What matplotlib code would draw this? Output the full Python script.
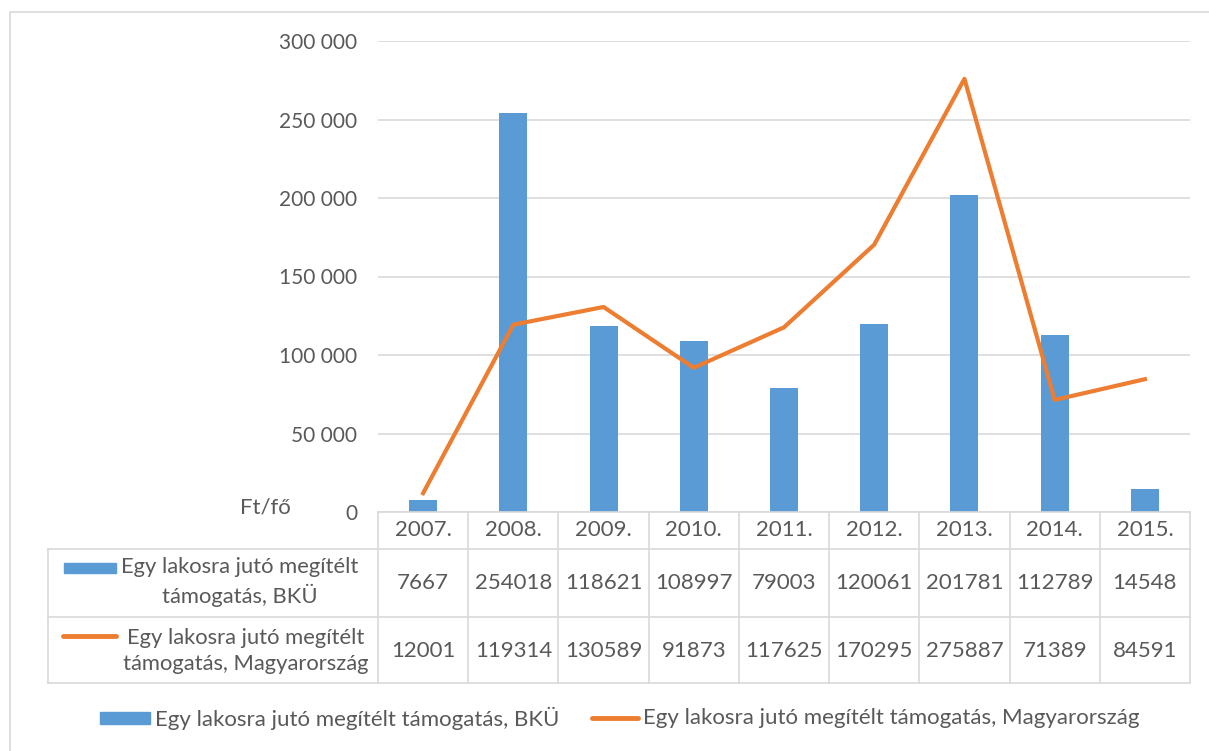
import matplotlib
matplotlib.use("Agg")
import matplotlib.pyplot as plt
from matplotlib.patches import Rectangle
from matplotlib.lines import Line2D
import numpy as np

years = ["2007.", "2008.", "2009.", "2010.", "2011.", "2012.", "2013.", "2014.", "2015."]
bku = [7667, 254018, 118621, 108997, 79003, 120061, 201781, 112789, 14548]
magyar = [12001, 119314, 130589, 91873, 117625, 170295, 275887, 71389, 84591]
series_bku = "Egy lakosra jutó megítélt támogatás, BKÜ"
series_hu = "Egy lakosra jutó megítélt támogatás, Magyarország"
row_bku = "Egy lakosra jutó megítélt\ntámogatás, BKÜ"
row_hu = "Egy lakosra jutó megítélt\ntámogatás, Magyarország"
yticks = [0, 50000, 100000, 150000, 200000, 250000, 300000]
ytick_labels = ["0", "50 000", "100 000", "150 000", "200 000", "250 000", "300 000"]
unit_label = "Ft/fő"

BLUE = "#5B9BD5"
ORANGE = "#ED7D31"
TXT = "#595959"
GRID = "#D9D9D9"
FONT = "Lato"

W, H = 1209, 751
fig = plt.figure(figsize=(W / 100, H / 100), dpi=100)
plt.rcParams['font.family'] = [FONT, 'DejaVu Sans']

def fx(x):
    return x / W

def fy(y):
    return 1 - y / H

# outer border
fig.add_artist(Rectangle((fx(10), fy(751 + 5)), fx(1209), fy(12) - fy(756), fill=False,
                         edgecolor=GRID, lw=1.2, transform=fig.transFigure))

L, R, T, B = 378, 1190, 41, 512
ax = fig.add_axes([fx(L), fy(B), fx(R - L), fy(T) - fy(B)])
n = len(years)
x = np.arange(n)
ax.bar(x, bku, width=0.31, color=BLUE, zorder=3)
ax.plot(x, magyar, color=ORANGE, lw=3.0, zorder=4, solid_joinstyle='round')
ax.set_xlim(-0.5, n - 0.5)
ax.set_ylim(0, 300000)
ax.set_yticks(yticks)
ax.set_yticklabels(ytick_labels)
ax.set_xticks([])
ax.tick_params(axis='y', length=0, pad=15, labelsize=15, labelcolor=TXT)
for s in ax.spines.values():
    s.set_visible(False)
ax.grid(axis='y', color=GRID, lw=1.2, zorder=0)
ax.set_axisbelow(True)

fig.text(fx(265), fy(507), unit_label, ha='center', va='center', fontsize=16, color=TXT)

# table lines
col_edges = [fx(L + (R - L) * i / n) for i in range(n + 1)]
def hline(y, x0, x1):
    fig.add_artist(Line2D([fx(x0), fx(x1)], [fy(y), fy(y)], color=GRID, lw=1.2,
                          transform=fig.transFigure))
def vline(xf, y0, y1):
    fig.add_artist(Line2D([xf, xf], [fy(y0), fy(y1)], color=GRID, lw=1.2,
                          transform=fig.transFigure))

TL = 48
hline(512, L, R)
hline(549, TL, R)
hline(617, TL, R)
hline(683, TL, R)
for xe in col_edges:
    vline(xe, 512, 683)
vline(fx(TL), 549, 683)

centers = [(col_edges[i] + col_edges[i + 1]) / 2 for i in range(n)]
TS = 16
for i in range(n):
    fig.text(centers[i], fy(530), years[i], ha='center', va='center', fontsize=TS, color=TXT)
    fig.text(centers[i], fy(583), str(bku[i]), ha='center', va='center', fontsize=TS, color=TXT)
    fig.text(centers[i], fy(651), str(magyar[i]), ha='center', va='center', fontsize=TS, color=TXT)

# row labels with legend keys
fig.add_artist(Rectangle((fx(64), fy(573)), fx(52), fy(563) - fy(573), color=BLUE,
                         transform=fig.transFigure))
fig.text(fx(240), fy(582), row_bku, ha='center', va='center', fontsize=15.8, color=TXT,
         linespacing=1.35)
fig.add_artist(Line2D([fx(63), fx(116)], [fy(636), fy(636)], color=ORANGE, lw=3.5,
                      solid_capstyle='round', transform=fig.transFigure))
fig.text(fx(246), fy(651), row_hu, ha='center', va='center', fontsize=15.8, color=TXT,
         linespacing=1.35)

# bottom legend
fig.add_artist(Rectangle((fx(100), fy(724)), fx(50), fy(712) - fy(724), color=BLUE,
                         transform=fig.transFigure))
fig.text(fx(155), fy(718), series_bku, ha='left', va='center', fontsize=16, color=TXT)
fig.add_artist(Line2D([fx(592), fx(638)], [fy(718), fy(718)], color=ORANGE, lw=3.5,
                      solid_capstyle='round', transform=fig.transFigure))
fig.text(fx(643), fy(718), series_hu, ha='left', va='center', fontsize=16, color=TXT)

fig.savefig("out.png", dpi=100)
